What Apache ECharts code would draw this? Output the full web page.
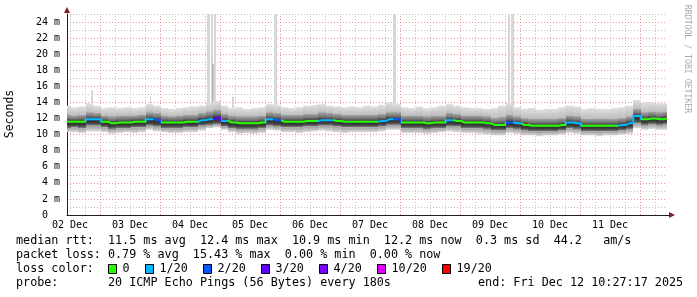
<!DOCTYPE html>
<html><head><meta charset="utf-8">
<script src="https://cdn.jsdelivr.net/npm/echarts@6/dist/echarts.min.js"></script>
<style>html,body{margin:0;padding:0;background:#fff}#c{width:697px;height:297px}</style>
</head><body><div id="c"></div>
<script>
// time axis: hours since 02 Dec 00:00
const T0 = 10.8, STEP = 3;
const dayLabels = ['02 Dec','03 Dec','04 Dec','05 Dec','06 Dec','07 Dec','08 Dec','09 Dec','10 Dec','11 Dec'];
const yLabels = ['0  ','2 m','4 m','6 m','8 m','10 m','12 m','14 m','16 m','18 m','20 m','22 m','24 m'];

// median rtt (ms), one value every 3 h
const median = [11.6,11.6,11.6,11.9,11.9,11.6,11.4,11.5,11.5,11.6,
 11.6,11.9,11.8,11.5,11.5,11.5,11.6,11.6,11.8,11.9,
 12.1,11.7,11.5,11.4,11.4,11.4,11.5,11.9,11.8,11.6,
 11.6,11.6,11.7,11.7,11.8,11.8,11.7,11.6,11.6,11.6,
 11.6,11.6,11.7,11.9,11.9,11.5,11.5,11.5,11.4,11.5,
 11.5,11.8,11.7,11.5,11.5,11.5,11.4,11.2,11.2,11.5,
 11.4,11.2,11.1,11.1,11.1,11.1,11.2,11.5,11.4,11.1,
 11.1,11.1,11.1,11.1,11.2,11.4,12.3,11.9,12.0,11.9,
 12.0];
// lost pings out of 20
const loss = [0,0,0,1,1,0,0,0,0,0,
 0,1,2,0,0,0,0,0,1,1,
 3,1,0,0,0,0,0,1,2,0,
 0,0,0,0,1,1,0,0,0,0,
 0,0,1,1,2,0,0,0,0,0,
 0,1,0,0,0,0,0,0,0,2,
 1,0,0,0,0,0,0,1,1,0,
 0,0,0,0,1,1,1,0,0,0,
 0];
// smoke envelope (ms)
const smokeMax = [13.6,13.4,13.5,13.9,13.6,13.3,13.4,13.3,13.4,13.3,
 13.4,13.8,13.6,13.3,13.2,13.3,13.4,13.5,13.6,14.0,
 14.2,13.6,13.3,13.4,13.2,13.3,13.4,13.8,13.7,13.4,
 13.3,13.4,13.6,13.7,13.8,13.6,13.5,13.4,13.5,13.4,
 13.6,13.5,13.7,14.0,13.8,13.4,13.3,13.5,13.3,13.4,
 13.6,13.8,13.6,13.4,13.3,13.3,13.2,13.3,13.6,14.0,
 13.4,13.2,13.3,13.1,13.2,13.2,13.4,13.6,13.5,13.2,
 13.3,13.2,13.2,13.3,13.4,13.6,14.3,14.0,14.0,13.9,
 13.9];
const smokeMin = [10.3,10.3,10.2,10.4,10.4,10.3,10.1,10.2,10.3,10.2,
 10.3,10.6,10.4,10.3,10.2,10.2,10.3,10.3,10.5,10.8,
 10.9,10.6,10.3,10.1,10.2,10.1,10.2,10.6,10.5,10.3,
 10.3,10.2,10.3,10.4,10.5,10.4,10.3,10.2,10.3,10.3,
 10.3,10.3,10.4,10.6,10.6,10.2,10.2,10.2,10.1,10.2,
 10.3,10.4,10.3,10.2,10.2,10.1,10.0,9.9,9.9,10.2,
 10.1,9.9,9.9,9.8,9.9,9.9,10.0,10.2,10.1,9.9,
 9.9,9.8,9.9,9.9,10.0,10.1,10.8,10.6,10.7,10.6,
 10.6];
const smokeQHi = [12.5,12.4,12.5,12.8,12.7,12.4,12.3,12.4,12.4,12.4,
 12.5,12.8,12.7,12.4,12.3,12.4,12.5,12.5,12.7,12.9,
 13.1,12.6,12.4,12.3,12.3,12.3,12.4,12.8,12.7,12.5,
 12.5,12.5,12.6,12.6,12.8,12.7,12.6,12.5,12.5,12.5,
 12.5,12.5,12.6,12.8,12.8,12.4,12.4,12.4,12.3,12.4,
 12.4,12.7,12.6,12.4,12.4,12.4,12.3,12.1,12.2,12.5,
 12.3,12.1,12.0,12.0,12.0,12.0,12.1,12.4,12.3,12.0,
 12.0,12.0,12.0,12.0,12.1,12.3,13.2,12.8,12.9,12.8,
 12.9];
const smokeQLo = [10.8,10.9,10.8,11.1,11.1,10.9,10.7,10.8,10.8,10.9,
 10.9,11.1,11.0,10.8,10.8,10.8,10.9,10.9,11.1,11.2,
 11.3,11.0,10.8,10.7,10.7,10.7,10.8,11.1,11.0,10.9,
 10.9,10.9,11.0,11.0,11.1,11.1,11.0,10.9,10.9,10.9,
 10.9,10.9,11.0,11.2,11.2,10.8,10.8,10.8,10.7,10.8,
 10.8,11.0,11.0,10.8,10.8,10.8,10.7,10.5,10.5,10.8,
 10.7,10.5,10.4,10.4,10.4,10.4,10.5,10.8,10.7,10.4,
 10.4,10.4,10.4,10.4,10.5,10.7,11.4,11.2,11.3,11.2,
 11.3];
// tall single-ping spikes: [start hour, end hour, top ms]
const spikes = [[20.4,21.2,15.5],[44.0,44.4,14.7],[66.8,68.0,25],[68.4,69.2,25],[69.6,70.4,25],
 [76.8,77.6,14.7],[93.6,94.8,25],[141.2,142.4,25],[187.2,188.0,25],[188.4,189.6,25]];
const spikeCore = [[69.0,69.4,18.8]];

const lossLevels = [0,1,2,3,4,10,19];
const lossColors = ['#26ff00','#00b8ff','#0059ff','#5e00ff','#7e00ff','#dd00ff','#ff0000'];
const lossNames = ['0','1/20','2/20','3/20','4/20','10/20','19/20'];

const times = median.map((_, i) => T0 + i * STEP);

// loss pieces along time
const pieces = [];
loss.forEach((l, i) => {
  const c = lossColors[lossLevels.indexOf(l)];
  const lo = i === 0 ? -1000 : times[i] - STEP / 2;
  const hi = i === loss.length - 1 ? 1000 : times[i] + STEP / 2;
  const last = pieces[pieces.length - 1];
  if (last && last.color === c) last.lt = hi; else pieces.push({gte: lo, lt: hi, color: c});
});

// vertical grid every 6h, major at midnight
const vLines = [];
for (let h = 12; h <= 250; h += 6) {
  const major = h % 24 === 0;
  vLines.push({xAxis: h, lineStyle: {color: major ? 'rgba(222,79,79,0.6)' : 'rgba(143,143,143,0.55)', type: [1, 2], width: 1}});
}
const labelHours = dayLabels.map((_, k) => 12 + 24 * k);

const MONO = "'DejaVu Sans Mono', monospace";
const smokeData = times.map((t, i) => [t, smokeMin[i], smokeQLo[i], median[i], smokeQHi[i], smokeMax[i]]);
const spikeData = spikes.map(s => [s[0], s[1], s[2], 0]).concat(spikeCore.map(s => [s[0], s[1], s[2], 1]));

const G = (stops) => new echarts.graphic.LinearGradient(0, 0, 0, 1, stops);
function renderSmoke(params, api) {
  const t = api.value(0);
  const half = STEP / 2;
  const xa = api.coord([Math.max(t - half, T0), 0])[0];
  const xb = api.coord([Math.min(t + half, T0 + 240), 0])[0];
  const y = k => api.coord([t, api.value(k)])[1];
  const yMin = y(1), yQLo = y(2), yMed = y(3), yQHi = y(4), yMax = y(5);
  const fm = (yMed - yQHi) / (yQLo - yQHi);
  const x0 = Math.round(xa), w = Math.round(xb) - x0;
  return {type: 'group', children: [
    {type: 'rect', shape: {x: x0, y: yMax, width: w, height: yQHi - yMax},
      style: {fill: G([{offset: 0, color: '#e0e0e0'}, {offset: 1, color: '#bdbdbd'}])}},
    {type: 'rect', shape: {x: x0, y: yQHi, width: w, height: yQLo - yQHi}, style: {fill: G([
      {offset: 0, color: '#a8a8a8'}, {offset: fm * 0.5, color: '#7a7a7a'}, {offset: fm, color: '#333333'},
      {offset: fm + (1 - fm) * 0.5, color: '#3a3a3a'}, {offset: 1, color: '#7c7c7c'}])}},
    {type: 'rect', shape: {x: x0, y: yQLo, width: w, height: yMin - yQLo},
      style: {fill: G([{offset: 0, color: '#9a9a9a'}, {offset: 1, color: '#dcdcdc'}])}}
  ]};
}
function renderSpike(params, api) {
  const p0 = api.coord([api.value(0), 12.5]);
  const p1 = api.coord([api.value(1), api.value(2)]);
  return {type: 'rect', shape: {x: p0[0], y: p1[1], width: p1[0] - p0[0], height: p0[1] - p1[1]},
    style: {fill: api.value(3) ? '#8c8c8c' : '#d6d6d6'}};
}

const chart = echarts.init(document.getElementById('c'), null, {renderer: 'canvas'});
chart.setOption({
  animation: false,
  backgroundColor: '#fff',
  grid: {left: 67, right: 30, top: 14, bottom: 82, containLabel: false, outerBoundsMode: 'none'},
  xAxis: {type: 'value', min: T0, max: T0 + 240,
    axisLine: {show: true, lineStyle: {color: '#1f1f1f', width: 1}},
    axisTick: {show: false}, splitLine: {show: false},
    axisLabel: {customValues: labelHours, formatter: v => dayLabels[Math.round((v - 12) / 24)],
      fontFamily: MONO, fontSize: 10, color: '#000', margin: 5}},
  yAxis: {type: 'value', min: 0, max: 25, interval: 1,
    axisLine: {show: true, lineStyle: {color: '#1f1f1f', width: 1}},
    axisTick: {show: false},
    splitLine: {show: true, lineStyle: {color: ['rgba(222,79,79,0.6)', 'rgba(143,143,143,0.55)'], type: [1, 2], width: 1}},
    axisLabel: {formatter: v => (v % 2 === 0 ? yLabels[v / 2] : ''), fontFamily: MONO, fontSize: 10, color: '#000', margin: 7}},
  visualMap: {type: 'piecewise', show: false, dimension: 0, seriesIndex: 2, pieces: pieces},
  series: [
    {type: 'custom', name: 'spikes', renderItem: renderSpike, data: spikeData, z: 3, silent: true, clip: true,
      encode: {x: [0, 1], y: 2}},
    {type: 'custom', name: 'smoke', renderItem: renderSmoke, data: smokeData, z: 10, silent: true, clip: true,
      encode: {x: 0, y: [1, 5]}},
    {type: 'line', name: 'median', step: 'middle', showSymbol: false, symbol: 'none', z: 12, silent: true,
      lineStyle: {width: 2}, data: times.map((t, i) => [t, median[i]]),
      markLine: {silent: true, symbol: ['none', 'none'], label: {show: false}, z: 1, animation: false, data: vLines}}
  ],
  graphic: [
    {type: 'polygon', shape: {points: [[64, 13], [70, 13], [67, 7]]}, style: {fill: '#801f1f'}, z: 20},
    {type: 'line', shape: {x1: 667, y1: 215.5, x2: 670, y2: 215.5}, style: {stroke: '#1f1f1f', lineWidth: 1}, z: 20},
    {type: 'polygon', shape: {points: [[669, 212], [669, 218], [675, 215]]}, style: {fill: '#801f1f'}, z: 20},
    {type: 'text', x: 10, y: 114, rotation: Math.PI / 2, style: {text: 'Seconds', font: '11.5px ' + MONO, fill: '#000', align: 'center', verticalAlign: 'middle'}},
    {type: 'text', x: 687, y: 59, rotation: -Math.PI / 2, style: {text: 'RRDTOOL / TOBI OETIKER', font: '8.2px ' + MONO, fill: '#aaa', align: 'center', verticalAlign: 'middle'}},
    {type: 'text', x: 16, y: 241, style: {text: 'median rtt:  11.5 ms avg  12.4 ms max  10.9 ms min  12.2 ms now  0.3 ms sd  44.2   am/s', font: '11.75px ' + MONO, fill: '#000', verticalAlign: 'middle'}},
    {type: 'text', x: 16, y: 255, style: {text: 'packet loss: 0.79 % avg  15.43 % max  0.00 % min  0.00 % now', font: '11.75px ' + MONO, fill: '#000', verticalAlign: 'middle'}},
    {type: 'text', x: 16, y: 269, style: {text: 'loss color:', font: '11.75px ' + MONO, fill: '#000', verticalAlign: 'middle'}},
    {type: 'text', x: 16, y: 283, style: {text: 'probe:       20 ICMP Echo Pings (56 Bytes) every 180s', font: '11.75px ' + MONO, fill: '#000', verticalAlign: 'middle'}},
    {type: 'text', x: 478, y: 283, style: {text: 'end: Fri Dec 12 10:27:17 2025', font: '11.75px ' + MONO, fill: '#000', verticalAlign: 'middle'}}
  ].concat(lossNames.flatMap((n, k) => {
    const bx = [108.5, 145.5, 203.5, 261.5, 319.5, 377.5, 442.5][k];
    return [
      {type: 'rect', shape: {x: bx, y: 264.5, width: 8, height: 9}, style: {fill: lossColors[k], stroke: '#000', lineWidth: 1}},
      {type: 'text', x: bx + 14, y: 269, style: {text: n, font: '11.75px ' + MONO, fill: '#000', verticalAlign: 'middle'}}
    ];
  }))
});
</script></body></html>
